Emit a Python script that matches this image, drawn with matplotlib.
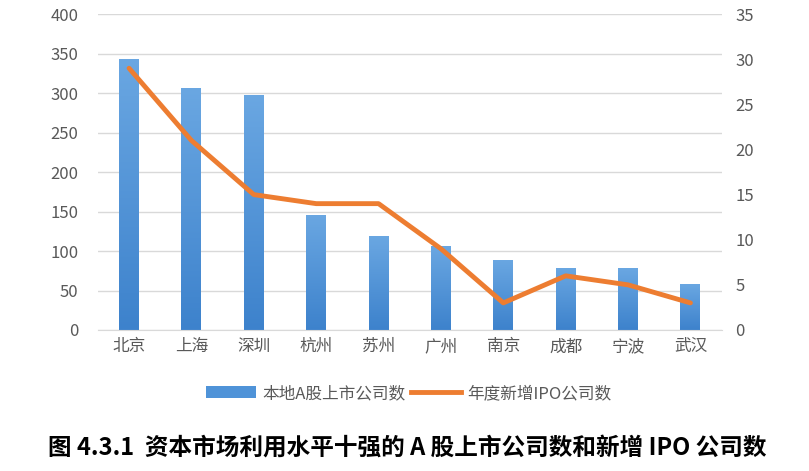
import numpy as np
import matplotlib.pyplot as plt
from matplotlib.patches import Patch
from matplotlib.lines import Line2D
from matplotlib.colors import LinearSegmentedColormap

plt.rcParams['font.family'] = ['Noto Sans CJK SC', 'DejaVu Sans']

# 数据
cities = ['北京', '上海', '深圳', '杭州', '苏州', '广州', '南京', '成都', '宁波', '武汉']
listed = [343, 306, 297, 146, 119, 106, 89, 78, 78, 58]
ipo_new = [29, 21, 15, 14, 14, 9, 3, 6, 5, 3]

fig = plt.figure(figsize=(8.09, 4.71), dpi=100)
ax = fig.add_axes([0.121, 0.2994, 0.771, 0.6706])
ax2 = ax.twinx()

x = np.arange(len(cities))
bars = ax.bar(x, listed, width=0.32, color='#4f93d8', zorder=2)

# 柱子渐变（上浅下深）
grad = np.linspace(0, 1, 256).reshape(-1, 1)
cmap = LinearSegmentedColormap.from_list('b', ['#3d82cc', '#6aa7e2'])
for b in bars:
    b.set_facecolor('none')
    x0, y0, w, h = b.get_x(), b.get_y(), b.get_width(), b.get_height()
    im = ax.imshow(grad, extent=[x0, x0 + w, y0, y0 + h], origin='lower',
                   cmap=cmap, aspect='auto', zorder=2)
    im.set_clip_path(b)

ax.set_xlim(-0.5, len(cities) - 0.5)
ax.set_ylim(0, 400)
ax.set_yticks(range(0, 401, 50))
ax.set_xticks(x)
ax.set_xticklabels(cities)
ax.grid(axis='y', color='#d9d9d9', linewidth=1, zorder=0)
ax.set_axisbelow(True)

ax2.plot(x, ipo_new, color='#ed7d31', linewidth=3.5, solid_capstyle='round', zorder=3)
ax2.set_ylim(0, 35)
ax2.set_yticks(range(0, 36, 5))

for a in (ax, ax2):
    for s in a.spines.values():
        s.set_visible(False)
    a.tick_params(length=0, labelsize=12, colors='#595959')
ax.tick_params(axis='y', pad=14)
ax.tick_params(axis='x', pad=6)
ax2.tick_params(axis='y', pad=10)
ax.spines['bottom'].set_visible(True)
ax.spines['bottom'].set_color('#d9d9d9')

handles = [Patch(facecolor='#4f93d8', label='本地A股上市公司数'),
           Line2D([0], [0], color='#ed7d31', linewidth=3.5, label='年度新增IPO公司数')]
fig.legend(handles=handles, loc='center', bbox_to_anchor=(0.505, 0.165), ncol=2,
           frameon=False, fontsize=12, handlelength=3.0, handletextpad=0.4,
           columnspacing=0.3, labelcolor='#595959')

fig.text(0.503, 0.05, '图 4.3.1  资本市场利用水平十强的 A 股上市公司数和新增 IPO 公司数',
         ha='center', va='center', fontsize=17, fontweight='bold', color='black')

fig.savefig('out.png', dpi=100)
